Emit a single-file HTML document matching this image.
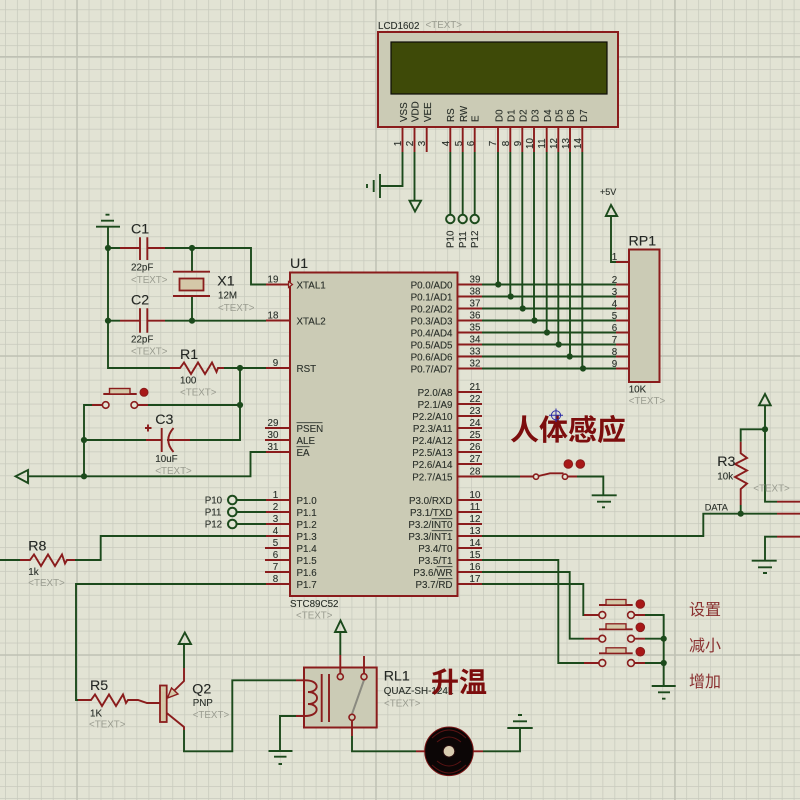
<!DOCTYPE html>
<html>
<head>
<meta charset="utf-8">
<style>
html,body{margin:0;padding:0;background:#e2e3d4;}
svg{display:block;filter:blur(0.35px);}
text{font-family:"Liberation Sans","Noto Sans CJK SC",sans-serif;fill:#2a302a;font-size:9.8px;stroke:#2a302a;stroke-width:0.12px;}
.big{font-size:14.2px;fill:#242724;}
.g{fill:#9a9c90;stroke:none;}
.r{text-anchor:end;}
.m{text-anchor:middle;}
.n{text-anchor:middle;}
.w{fill:none;stroke:#1c4a1c;stroke-width:1.9;}
.p{fill:none;stroke:#8a1c1c;stroke-width:1.9;}
.o{fill:#e2e3d4;stroke:#8a1c1c;stroke-width:1.6;}
.og{fill:#e2e3d4;stroke:#1c4a1c;stroke-width:2;}
.j{fill:#1c4a1c;stroke:none;}
.d{fill:#a81818;stroke:#8a1c1c;stroke-width:1;}
.cn{font-weight:700;font-size:28px;fill:#7c0d0d;stroke:none;}
.lb{font-size:16px;fill:#8a3030;stroke:none;}
</style>
</head>
<body>
<svg width="800" height="800" viewBox="0 0 800 800" xmlns="http://www.w3.org/2000/svg">
<defs>
<pattern id="grid" width="11.95" height="11.95" patternUnits="userSpaceOnUse" patternTransform="translate(5 9.3)">
<path d="M0 0H11.95M0 0V11.95" fill="none" stroke="#c8cabd" stroke-width="1.5"/>
</pattern>
</defs>
<rect width="800" height="800" fill="#e2e3d4"/>
<rect width="800" height="800" fill="url(#grid)"/>
<path d="M77 0V800M376 0V800M675 0V800M0 56.7H800M0 356H800M0 655H800" stroke="#bfc1b4" stroke-width="1.5" fill="none"/>

<!-- LCD -->
<rect x="378" y="32" width="240" height="95" fill="#cbcbb5" stroke="#8a1c1c" stroke-width="2"/>
<rect x="391" y="42" width="216" height="52" fill="#3e4a08" stroke="#0c0c08" stroke-width="1.2"/>
<text x="378" y="29">LCD1602</text><text x="425.5" y="28" class="g">&lt;TEXT&gt;</text>
<g>
<text transform="translate(407 122) rotate(-90)">VSS</text>
<text transform="translate(418.5 122) rotate(-90)">VDD</text>
<text transform="translate(431 122) rotate(-90)">VEE</text>
<text transform="translate(454 122) rotate(-90)">RS</text>
<text transform="translate(467 122) rotate(-90)">RW</text>
<text transform="translate(478.5 122) rotate(-90)">E</text>
<text transform="translate(502.5 122) rotate(-90)">D0</text>
<text transform="translate(514.5 122) rotate(-90)">D1</text>
<text transform="translate(526.5 122) rotate(-90)">D2</text>
<text transform="translate(538.5 122) rotate(-90)">D3</text>
<text transform="translate(551 122) rotate(-90)">D4</text>
<text transform="translate(562.5 122) rotate(-90)">D5</text>
<text transform="translate(574 122) rotate(-90)">D6</text>
<text transform="translate(587 122) rotate(-90)">D7</text>
</g>
<g>
<text class="n" transform="translate(401 143.5) rotate(-90)">1</text>
<text class="n" transform="translate(413 143.5) rotate(-90)">2</text>
<text class="n" transform="translate(425 143.5) rotate(-90)">3</text>
<text class="n" transform="translate(449 143.5) rotate(-90)">4</text>
<text class="n" transform="translate(462 143.5) rotate(-90)">5</text>
<text class="n" transform="translate(474 143.5) rotate(-90)">6</text>
<text class="n" transform="translate(496 143.5) rotate(-90)">7</text>
<text class="n" transform="translate(509 143.5) rotate(-90)">8</text>
<text class="n" transform="translate(521 143.5) rotate(-90)">9</text>
<text class="n" transform="translate(533 143.5) rotate(-90)">10</text>
<text class="n" transform="translate(545 143.5) rotate(-90)">11</text>
<text class="n" transform="translate(557 143.5) rotate(-90)">12</text>
<text class="n" transform="translate(569 143.5) rotate(-90)">13</text>
<text class="n" transform="translate(581 143.5) rotate(-90)">14</text>
</g>
<path class="p" d="M402.5 127V152M414.5 127V152M426.7 127V152M450.3 127V152M462.7 127V152M474.7 127V152M498 127V152M510.3 127V152M522.3 127V152M534 127V152M546.7 127V152M558.3 127V152M570 127V152M582.3 127V152"/>
<path class="w" d="M402.5 152V186H380M380 174V198M373.7 180V192M367 184V188M414.5 152V200"/>
<path class="w" d="M409.5 200.7H421L415 211.5Z"/>
<path class="w" d="M450.3 152V215M462.7 152V215M474.7 152V215"/>
<circle class="og" cx="450.3" cy="219" r="4.2"/><circle class="og" cx="462.7" cy="219" r="4.2"/><circle class="og" cx="474.7" cy="219" r="4.2"/>
<text transform="translate(453.5 248) rotate(-90)">P10</text>
<text transform="translate(466 248) rotate(-90)">P11</text>
<text transform="translate(478 248) rotate(-90)">P12</text>

<!-- data bus -->
<path class="w" d="M498 152V284.5M510.3 152V296.5M522.3 152V308.5M534 152V320.5M546.7 152V332.5M558.3 152V344.5M570 152V356.5M582.3 152V368.5"/>
<path class="w" d="M482 284.5H629M482 296.5H629M482 308.5H629M482 320.5H629M482 332.5H629M482 344.5H629M482 356.5H629M482 368.5H629"/>
<g class="j">
<circle cx="498.3" cy="284.5" r="3.1"/><circle cx="510.7" cy="296.5" r="3.1"/><circle cx="522.7" cy="308.5" r="3.1"/><circle cx="534.5" cy="320.5" r="3.1"/><circle cx="547" cy="332.5" r="3.1"/><circle cx="558.7" cy="344.5" r="3.1"/><circle cx="569.7" cy="356.5" r="3.1"/><circle cx="583" cy="368.5" r="3.1"/>
</g>

<!-- U1 -->
<rect x="290" y="272.5" width="167.5" height="323.5" fill="#cbcbb5" stroke="#8a1c1c" stroke-width="2"/>
<text class="big" x="290" y="268">U1</text>
<text x="290" y="607">STC89C52</text><text x="296" y="618.5" class="g">&lt;TEXT&gt;</text>

<path class="p" d="M458 284.5H482M458 296.5H482M458 308.5H482M458 320.5H482M458 332.5H482M458 344.5H482M458 356.5H482M458 368.5H482
M458 392H482M458 404H482M458 416H482M458 428H482M458 440H482M458 452H482M458 464H482M458 476.5H482
M458 500H482M458 512H482M458 524H482M458 536H482M458 548H482M458 560H482M458 572H482M458 584H482
M266 284.5H290M266 320.5H290M266 368H290M265 428H290M265 440H290M266 452H290
M266 500H290M266 512H290M266 524H290M266 536H290M265 548H290M265 560H290M265 572H290M266 584H290"/>
<path d="M288.5 281.5L292.5 284.5L288.5 287.5Z" fill="#cbcbb5" stroke="#8a1c1c" stroke-width="1.2"/>

<!-- U1 labels -->
<text x="296.5" y="288.5">XTAL1</text><text x="296.5" y="324.5">XTAL2</text><text x="296.5" y="372">RST</text>
<text x="296.5" y="432">PSEN</text><text x="296.5" y="444">ALE</text><text x="296.5" y="456">EA</text>
<text x="296.5" y="504">P1.0</text><text x="296.5" y="516">P1.1</text><text x="296.5" y="528">P1.2</text><text x="296.5" y="540">P1.3</text><text x="296.5" y="552">P1.4</text><text x="296.5" y="564">P1.5</text><text x="296.5" y="576">P1.6</text><text x="296.5" y="588">P1.7</text>
<path d="M296.5 422.7H322.5M296.5 446.7H309.5M431.7 518.7H452.5M431.7 530.7H452.5M436.7 566.7H452.5M438 578.7H452.5" stroke="#333a33" stroke-width="0.9" fill="none"/>
<g class="r">
<text class="r" x="452.5" y="288.5">P0.0/AD0</text><text class="r" x="452.5" y="300.5">P0.1/AD1</text><text class="r" x="452.5" y="312.5">P0.2/AD2</text><text class="r" x="452.5" y="324.5">P0.3/AD3</text><text class="r" x="452.5" y="336.5">P0.4/AD4</text><text class="r" x="452.5" y="348.5">P0.5/AD5</text><text class="r" x="452.5" y="360.5">P0.6/AD6</text><text class="r" x="452.5" y="372.5">P0.7/AD7</text>
<text class="r" x="452.5" y="396">P2.0/A8</text><text class="r" x="452.5" y="408">P2.1/A9</text><text class="r" x="452.5" y="420">P2.2/A10</text><text class="r" x="452.5" y="432">P2.3/A11</text><text class="r" x="452.5" y="444">P2.4/A12</text><text class="r" x="452.5" y="456">P2.5/A13</text><text class="r" x="452.5" y="468">P2.6/A14</text><text class="r" x="452.5" y="480.5">P2.7/A15</text>
<text class="r" x="452.5" y="504">P3.0/RXD</text><text class="r" x="452.5" y="516">P3.1/TXD</text><text class="r" x="452.5" y="528">P3.2/INT0</text><text class="r" x="452.5" y="540">P3.3/INT1</text><text class="r" x="452.5" y="552">P3.4/T0</text><text class="r" x="452.5" y="564">P3.5/T1</text><text class="r" x="452.5" y="576">P3.6/WR</text><text class="r" x="452.5" y="588">P3.7/RD</text>
</g>
<!-- pin numbers right -->
<text class="n" x="475" y="282.5">39</text><text class="n" x="475" y="294.5">38</text><text class="n" x="475" y="306.5">37</text><text class="n" x="475" y="318.5">36</text><text class="n" x="475" y="330.5">35</text><text class="n" x="475" y="342.5">34</text><text class="n" x="475" y="354.5">33</text><text class="n" x="475" y="366.5">32</text>
<text class="n" x="475" y="390">21</text><text class="n" x="475" y="402">22</text><text class="n" x="475" y="414">23</text><text class="n" x="475" y="426">24</text><text class="n" x="475" y="438">25</text><text class="n" x="475" y="450">26</text><text class="n" x="475" y="462">27</text><text class="n" x="475" y="474.5">28</text>
<text class="n" x="475" y="498">10</text><text class="n" x="475" y="510">11</text><text class="n" x="475" y="522">12</text><text class="n" x="475" y="534">13</text><text class="n" x="475" y="546">14</text><text class="n" x="475" y="558">15</text><text class="n" x="475" y="570">16</text><text class="n" x="475" y="582">17</text>
<!-- pin numbers left -->
<text class="n" x="273" y="282.5">19</text><text class="n" x="273" y="318.5">18</text><text class="n" x="275.5" y="366">9</text><text class="n" x="273" y="426">29</text><text class="n" x="273" y="438">30</text><text class="n" x="273" y="450">31</text>
<text class="n" x="275.5" y="498">1</text><text class="n" x="275.5" y="510">2</text><text class="n" x="275.5" y="522">3</text><text class="n" x="275.5" y="534">4</text><text class="n" x="275.5" y="546">5</text><text class="n" x="275.5" y="558">6</text><text class="n" x="275.5" y="570">7</text><text class="n" x="275.5" y="582">8</text>

<!-- RP1 -->
<rect x="629" y="249.5" width="30.5" height="132.5" fill="#cbcbb5" stroke="#8a1c1c" stroke-width="2"/>
<text class="big" x="628.5" y="245.5">RP1</text>
<text x="628.7" y="392.7">10K</text><text x="628.7" y="404" class="g">&lt;TEXT&gt;</text>
<path class="w" d="M611 216V262H616"/>
<path class="p" d="M616 262H629M616 284.5H629M616 296.5H629M616 308.5H629M616 320.5H629M616 332.5H629M616 344.5H629M616 356.5H629M616 368.5H629"/>
<path class="w" d="M605.8 216H617.2L611 205Z"/>
<text x="600" y="195" style="font-size:9px">+5V</text>
<text class="n" x="614.5" y="260">1</text><text class="n" x="614.5" y="283">2</text><text class="n" x="614.5" y="295">3</text><text class="n" x="614.5" y="307">4</text><text class="n" x="614.5" y="319">5</text><text class="n" x="614.5" y="331">6</text><text class="n" x="614.5" y="343">7</text><text class="n" x="614.5" y="355">8</text><text class="n" x="614.5" y="367">9</text>

<!-- left oscillator -->
<path class="w" d="M96 226.7H120M101 220.7H114M105.5 214.7H109.5"/>
<path class="w" d="M108 227V368H177"/>
<path class="w" d="M108 248H120M165 248H251V284.5H266M108 320.7H120M165 320.7H266"/>
<path class="p" d="M120 248H140M147.3 248H165M120 320.7H140M147.3 320.7H165"/>
<path class="p" d="M140 237.3V260M147.3 237.3V260M140 308.3V332.7M147.3 308.3V332.7"/>
<path class="w" d="M192 248V271.7M192 296V320.7"/>
<path class="p" d="M173 271.7H210M173 296H210"/>
<rect x="179.5" y="278.5" width="24" height="12" fill="#d4c8a8" stroke="#8a1c1c" stroke-width="1.8"/>
<circle class="j" cx="108" cy="248" r="3.1"/><circle class="j" cx="108" cy="320.7" r="3.1"/><circle class="j" cx="192" cy="248" r="3.1"/><circle class="j" cx="192" cy="320.7" r="3.1"/>
<text class="big" x="131" y="233.3">C1</text><text x="131" y="270.7">22pF</text><text x="131" y="283" class="g">&lt;TEXT&gt;</text>
<text class="big" x="217.3" y="285.3">X1</text><text x="218" y="298.7">12M</text><text x="218" y="311" class="g">&lt;TEXT&gt;</text>
<text class="big" x="131" y="304.7">C2</text><text x="131" y="342.7">22pF</text><text x="131" y="354.3" class="g">&lt;TEXT&gt;</text>

<!-- R1 -->
<path class="p" d="M170 368H180L184 362.5L191 374L198 362.5L205 374L212 362.5L216.5 372L218 368H224"/>
<path class="w" d="M224 368H266M240 368V440H190"/>
<circle class="j" cx="240" cy="368" r="3.1"/>
<text class="big" x="180" y="359">R1</text><text x="180" y="383.3">100</text><text x="180" y="395.7" class="g">&lt;TEXT&gt;</text>

<!-- reset button -->
<path class="w" d="M84 476V405H92M143 405H240"/>
<path class="p" d="M92 405H102M138 405H148"/>
<circle class="o" cx="105.7" cy="405" r="3.3"/><circle class="o" cx="134.3" cy="405" r="3.3"/>
<path class="p" d="M103.3 394H136.7"/>
<rect x="109.5" y="388.5" width="20.5" height="5.5" fill="#d4c8a8" stroke="#8a1c1c" stroke-width="1.4"/>
<circle class="d" cx="144" cy="392.3" r="4"/>
<circle class="j" cx="240" cy="405" r="3.1"/>

<!-- C3 -->
<path class="w" d="M84 440H146"/>
<path class="p" d="M146 440H161.7M167 440H190"/>
<path class="p" d="M161.7 428V452M173.5 428Q163 440 173.5 452M145 428H151.5M148 424.5V431.5"/>
<circle class="j" cx="84" cy="440" r="3.1"/>
<text class="big" x="155.3" y="424">C3</text><text x="155.3" y="462">10uF</text><text x="155.3" y="474" class="g">&lt;TEXT&gt;</text>

<!-- reset bottom -->
<path class="w" d="M28 476.3H250.5V452H266"/>
<path class="w" d="M15.5 476.3L28 470V483Z"/>
<circle class="j" cx="84" cy="476.3" r="3.1"/>

<!-- P10-12 -->
<path class="w" d="M237 500H266M237 512H266M237 524H266"/>
<circle class="og" cx="232.3" cy="500" r="4.3"/><circle class="og" cx="232.3" cy="512" r="4.3"/><circle class="og" cx="232.3" cy="524" r="4.3"/>
<text x="204.7" y="503.3">P10</text><text x="204.7" y="515.5">P11</text><text x="204.7" y="527.5">P12</text>

<!-- R8 -->
<path class="w" d="M0 560H20M75 560H100.7V536H266"/>
<path class="p" d="M20 560H30L34 554.5L41 566L48 554.5L55 566L62 554.5L65 563.5L67 560H75"/>
<text class="big" x="28.3" y="550.7">R8</text><text x="28.3" y="575">1k</text><text x="28.3" y="586" class="g">&lt;TEXT&gt;</text>

<!-- R5 / Q2 -->
<path class="w" d="M266 584H76V700H78"/>
<path class="p" d="M78 700H91L95 694.5L102 706L109 694.5L116 706L123 694.5L126 703L128 700H138L147 703H160"/>
<text class="big" x="90" y="690">R5</text><text x="90" y="716.7">1K</text><text x="89" y="727.7" class="g">&lt;TEXT&gt;</text>
<rect x="160" y="685.5" width="6.7" height="36.5" fill="#d4c8a8" stroke="#8a1c1c" stroke-width="1.8"/>
<path class="p" d="M166.7 698L184 681V668M166.7 713L184 727V730"/>
<path d="M167.5 698L171.5 688L178 694Z" fill="#d4c8a8" stroke="#8a1c1c" stroke-width="1.4"/>
<path class="w" d="M184 668V644M178.7 644H191L184.8 632.5Z"/>
<path class="w" d="M184 730V751.3H232.3V680.3H296"/>
<text class="big" x="192.3" y="693.3">Q2</text><text x="192.7" y="706">PNP</text><text x="192.7" y="718" class="g">&lt;TEXT&gt;</text>

<!-- relay -->
<rect x="304" y="667.5" width="72.7" height="60" fill="#cbcbb5" stroke="#8a1c1c" stroke-width="2"/>
<path class="p" d="M296 680.3H305C320 680 320 692 308 692C320 692 320 704 308 704C320 704 320 716 305 716H296"/>
<path class="w" d="M296 716H280V751"/>
<path class="p" d="M321.7 674V722M329 674V722"/>
<path d="M352 714L364 680" stroke="#8a8a80" stroke-width="2" fill="none"/>
<path class="p" d="M340.3 673.5V655M364 673.5V656M352 720.5V736"/>
<circle class="o" cx="340.3" cy="676.7" r="3" style="fill:#cbcbb5"/><circle class="o" cx="364" cy="676.7" r="3" style="fill:#cbcbb5"/><circle class="o" cx="352" cy="717.3" r="3" style="fill:#cbcbb5"/>
<path class="w" d="M340.3 655V632M335 632H346L340.5 620.5Z"/>
<path class="w" d="M352 736V751.3H416"/>
<path class="w" d="M268.5 751H292.5M274 756.7H286.5M278.5 764H282"/>
<text class="big" x="383.7" y="680.7">RL1</text><text x="383.7" y="694" style="font-size:9.9px">QUAZ-SH-124L</text><text x="384" y="706.7" class="g">&lt;TEXT&gt;</text>
<text class="cn" x="431" y="692">升温</text>

<!-- fan -->
<path class="p" d="M416 751.3H425M473 751.3H483"/>
<circle cx="449" cy="751.3" r="24.3" fill="#0c0606" stroke="#7a1414" stroke-width="1"/>
<path d="M437 742Q449 732 461 742M432 738Q449 722 466 738M437 761Q449 771 461 761M432 765Q449 781 466 765" fill="none" stroke="#5a1414" stroke-width="1"/>
<circle cx="449" cy="751.3" r="5.8" fill="#d8ccb0" stroke="#2a1010" stroke-width="1"/>
<path class="w" d="M483 751.3H520V728.3M507.3 728H532.7M513 721.3H527M518 715H522"/>

<!-- human sensor -->
<text x="510" y="440" style="font-weight:700;font-size:29px;fill:#7c0d0d;stroke:none">人体感应</text>
<circle cx="556" cy="415.3" r="4.6" fill="none" stroke="#2e2ea8" stroke-width="1"/>
<path d="M549 415.3H563M556 408.5V422" stroke="#2e2ea8" stroke-width="1" fill="none"/>
<path class="w" d="M482 476.5H520M577 476.5H603.3V495.3M591.7 495.3H616.7M597 501.7H611M605 507.3H602"/>
<path class="p" d="M520 476.5H533M568 476.5H577M538.5 476L550 473.3H563.5"/>
<circle class="o" cx="536" cy="476.7" r="2.6"/><circle class="o" cx="565" cy="476.7" r="2.6"/>
<circle class="d" cx="568.3" cy="464" r="4.3"/><circle class="d" cx="580.3" cy="464" r="4.3"/>

<!-- DATA / R3 -->
<path class="w" d="M482 536H703.3V513.7H777"/>
<path class="p" d="M777 513.7H800"/>
<circle class="j" cx="740.7" cy="513.7" r="3.1"/>
<text x="704.7" y="510.7" style="font-size:9.2px">DATA</text>
<path class="w" d="M740.7 513.7V505"/>
<path class="p" d="M740.7 505V489L747 483.5L735 477L747 470.5L735 464L747 458L740.7 453.3V441.7"/>
<path class="w" d="M740.7 441.7V429.3H765"/>
<path class="w" d="M765 405.3V501.7H777"/>
<path class="p" d="M777 501.7H800M777 536.7H800"/>
<path class="w" d="M759 405.3H770.7L765 394Z"/>
<circle class="j" cx="765" cy="429.3" r="3.1"/>
<path class="w" d="M777 536.7H765V560.7M751.7 560.7H776.7M758 567.3H772M763 573H767"/>
<text class="big" x="717.3" y="466">R3</text><text x="717.3" y="479.3">10k</text><text x="753.3" y="491.3" class="g">&lt;TEXT&gt;</text>

<!-- buttons -->
<path class="w" d="M482 560H558.3V663H584M482 572H569.7V638.7H584M482 584H583.3V615H584"/>
<path class="p" d="M584 615H599M584 638.7H599M584 663H599"/>
<path class="p" d="M634 615H645M634 638.7H645M634 663H645"/>
<path class="w" d="M645 615H663.7V686M645 638.7H663.7M645 663H663.7M651.7 686H675.7M658 692.3H670M662 698.7H665.5"/>
<circle class="j" cx="663.7" cy="638.7" r="3.1"/><circle class="j" cx="663.7" cy="663" r="3.1"/>
<g>
<circle class="o" cx="602.3" cy="615" r="3.4"/><circle class="o" cx="631" cy="615" r="3.4"/>
<circle class="o" cx="602.3" cy="638.7" r="3.4"/><circle class="o" cx="631" cy="638.7" r="3.4"/>
<circle class="o" cx="602.3" cy="663" r="3.4"/><circle class="o" cx="631" cy="663" r="3.4"/>
<path class="p" d="M599 605H632.7M599 629.3H632.7M599 653.3H632.7"/>
<rect x="606" y="599.5" width="20" height="5.5" fill="#d4c8a8" stroke="#8a1c1c" stroke-width="1.3"/>
<rect x="606" y="623.8" width="20" height="5.5" fill="#d4c8a8" stroke="#8a1c1c" stroke-width="1.3"/>
<rect x="606" y="647.8" width="20" height="5.5" fill="#d4c8a8" stroke="#8a1c1c" stroke-width="1.3"/>
<circle class="d" cx="640.3" cy="604" r="4.3"/><circle class="d" cx="640.3" cy="627.3" r="4.3"/><circle class="d" cx="640.3" cy="651.7" r="4.3"/>
</g>
<text class="lb" x="689" y="615">设置</text><text class="lb" x="689" y="651">减小</text><text class="lb" x="689" y="687">增加</text>
</svg>
</body>
</html>
